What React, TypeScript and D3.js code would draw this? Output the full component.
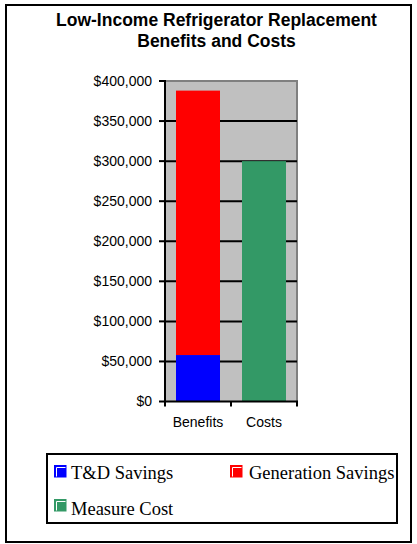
import React from "react";
import * as d3 from "d3";

const titleLines = ["Low-Income Refrigerator Replacement", "Benefits and Costs"];
const categories = ["Benefits", "Costs"];
const tdSavings = [58000, 0];
const generationSavings = [330000, 0];
const measureCost = [0, 300000];
const yTicks = [0, 50000, 100000, 150000, 200000, 250000, 300000, 350000, 400000];
const seriesNames = ["T&D Savings", "Generation Savings", "Measure Cost"];
const seriesColors = ["#0000FF", "#FF0000", "#339966"];

const W = 417;
const H = 544;
const plot = { left: 165, right: 297, top: 81, bottom: 401.5 };

export default function App() {
  const x = d3
    .scaleBand<string>()
    .domain(categories)
    .range([plot.left, plot.right])
    .paddingInner(1 / 3)
    .paddingOuter(1 / 6);
  const y = d3.scaleLinear().domain([0, 400000]).range([plot.bottom, plot.top]);
  const fmt = (v: number) => "$" + d3.format(",")(v);

  const rows = categories.map((c, i) => ({
    cat: c,
    td: tdSavings[i],
    gen: generationSavings[i],
    cost: measureCost[i],
  }));
  const stack = d3.stack<any>().keys(["td", "gen", "cost"]);
  const stacked = stack(rows);

  const sans = "'Liberation Sans', Arial, sans-serif";
  const serif = "'Liberation Serif', 'Times New Roman', serif";

  const legendItems = [
    { x: 54, y: 465, tx: 71, ty: 479 },
    { x: 230, y: 465, tx: 249, ty: 479 },
    { x: 54, y: 499, tx: 71, ty: 515 },
  ];
  const sw = 12.5;

  return (
    <svg
      width={W}
      height={H}
      style={{ position: "fixed", left: 0, top: 0 }}
    >
      <rect x={0} y={0} width={W} height={H} fill="#fff" />
      <rect x={6} y={5} width={405} height={537} fill="none" stroke="#000" strokeWidth={2} />
      {titleLines.map((t, i) => (
        <text
          key={i}
          x={216.5}
          y={26 + i * 20.5}
          textAnchor="middle"
          fontFamily={sans}
          fontWeight="bold"
          fontSize={17.5}
          fill="#000"
        >
          {t}
        </text>
      ))}
      {/* plot area */}
      <rect
        x={plot.left}
        y={plot.top}
        width={plot.right - plot.left}
        height={plot.bottom - plot.top}
        fill="#C0C0C0"
      />
      <path
        d={`M${plot.left},${plot.top} H${plot.right} V${plot.bottom}`}
        fill="none"
        stroke="#808080"
        strokeWidth={2}
      />
      {yTicks.slice(1, -1).map((t) => (
        <line
          key={t}
          x1={plot.left}
          x2={plot.right}
          y1={y(t)}
          y2={y(t)}
          stroke="#000"
          strokeWidth={2}
        />
      ))}
      {stacked.map((s, si) =>
        s.map((d, i) =>
          d[1] - d[0] > 0 ? (
            <rect
              key={si + "-" + i}
              x={x(categories[i])!}
              width={x.bandwidth()}
              y={y(d[1])}
              height={y(d[0]) - y(d[1])}
              fill={seriesColors[si]}
            />
          ) : null
        )
      )}
      {/* axes */}
      <line x1={plot.left} x2={plot.left} y1={plot.top - 1} y2={plot.bottom + 1} stroke="#000" strokeWidth={2} />
      <line x1={plot.left - 1} x2={plot.right + 1} y1={plot.bottom} y2={plot.bottom} stroke="#000" strokeWidth={2} />
      {yTicks.map((t) => (
        <g key={t}>
          <line x1={plot.left - 6} x2={plot.left} y1={y(t)} y2={y(t)} stroke="#000" strokeWidth={2} />
          <text
            x={152}
            y={y(t)}
            dy="0.35em"
            textAnchor="end"
            fontFamily={sans}
            fontSize={14}
            fill="#000"
          >
            {fmt(t)}
          </text>
        </g>
      ))}
      {[plot.left, ...categories.map((c) => x(c)! + x.bandwidth() + x.step() * x.paddingInner() / 2)].map((tx, i) => (
        <line key={i} x1={tx} x2={tx} y1={plot.bottom} y2={plot.bottom + 5} stroke="#000" strokeWidth={2} />
      ))}
      {categories.map((c) => (
        <text
          key={c}
          x={x(c)! + x.bandwidth() / 2}
          y={427}
          textAnchor="middle"
          fontFamily={sans}
          fontSize={14}
          fill="#000"
        >
          {c}
        </text>
      ))}
      {/* legend */}
      <rect x={47} y={454} width={350} height={69} fill="#fff" stroke="#000" strokeWidth={2} />
      {legendItems.map((it, i) => (
        <g key={i}>
          <rect x={it.x} y={it.y} width={sw} height={sw} fill={seriesColors[i]} />
          <path
            d={`M${it.x + 2.5},${it.y + sw - 1} V${it.y + 2.5} H${it.x + sw - 1}`}
            fill="none"
            stroke="#fff"
            strokeWidth={1}
          />
          <text x={it.tx} y={it.ty} fontFamily={serif} fontSize={18.5} fill="#000">
            {seriesNames[i]}
          </text>
        </g>
      ))}
    </svg>
  );
}
